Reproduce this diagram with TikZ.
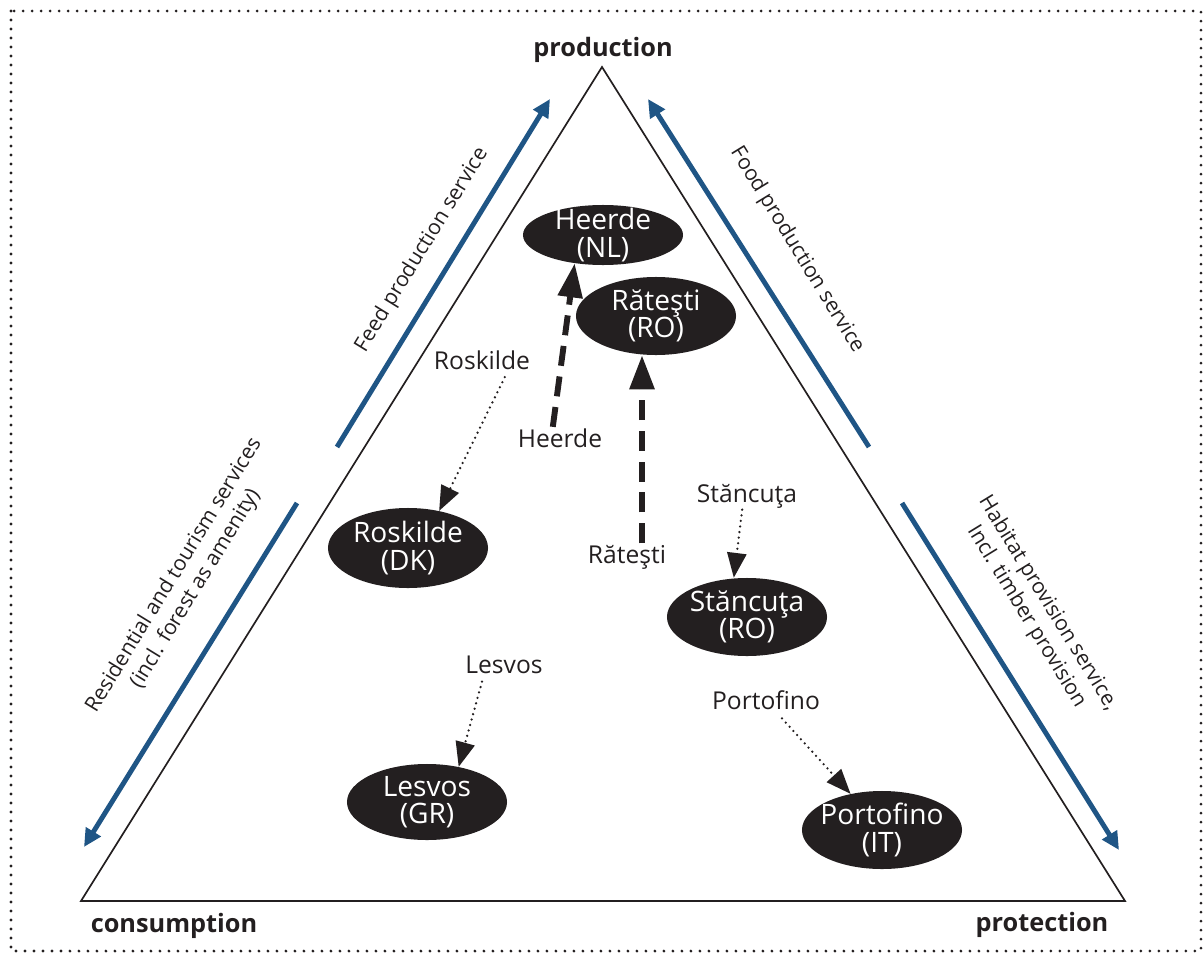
\documentclass[tikz,border=0pt]{standalone}
\usepackage{fontspec}
\setmainfont{Open Sans}
\usepackage{tikz}
\usetikzlibrary{arrows.meta, positioning, shapes.geometric, calc}
\definecolor{tblue}{HTML}{1F5585}
\definecolor{tdark}{HTML}{231F20}
\tikzset{
  sitebox/.style={ellipse, fill=tdark, text=white, align=center,
                  inner xsep=-0.3cm, inner ysep=-0.25cm,
                  minimum width=4cm, minimum height=1.95cm,
                  font=\fontsize{20}{19.5}\selectfont},
  tag/.style={inner sep=1pt, text=tdark, font=\fontsize{17.5}{20}\selectfont},
  corner/.style={text=tdark, font=\fontsize{18}{20}\selectfont\bfseries},
  svclabel/.style={align=center, text=tdark, font=\fontsize{15}{18}\selectfont},
  svcarr/.style={-{Triangle[length=0.45cm, width=0.42cm]}, line width=3.5pt, tblue},
  dotarr/.style={-{Triangle[length=0.62cm, width=0.48cm]}, line width=1.8pt,
                 line cap=round, dash pattern=on 0pt off 4pt, tdark},
  dasharr/.style={-{Triangle[length=0.85cm, width=0.6cm]}, line width=4.2pt,
                  dash pattern=on 0.5cm off 0.27cm, tdark},
  sideline/.style={line width=1.2pt, tdark, line join=miter},
}

\begin{document}
\begin{tikzpicture}[x=0.025cm, y=-0.025cm]
  \useasboundingbox (0,0) rectangle (1203,953);

  %% Frame
  \draw[line width=2.2pt, line cap=round, dash pattern=on 0pt off 6.4pt, tdark]
    (11,11) rectangle (1201,951);

  %% Triangle
  \coordinate (ptop) at (602,67);
  \coordinate (pleft) at (81,901);
  \coordinate (pright) at (1125,901);
  \draw[sideline] (ptop) -- (pleft) -- (pright) -- cycle;
  \node[corner] (prod) at (603,50) {production};
  \node[corner] (cons) at (174,926) {consumption};
  \node[corner] (prot) at (1042,925) {protection};

  %% Services along the sides
  \coordinate (feeda) at (337,447);  \coordinate (feedb) at (550,99);
  \coordinate (fooda) at (869,447);  \coordinate (foodb) at (648,99);
  \coordinate (resa) at (297,503);   \coordinate (resb) at (84,847);
  \coordinate (haba) at (902,503);   \coordinate (habb) at (1119,850);
  \draw[svcarr] (feeda) -- (feedb);
  \draw[svcarr] (fooda) -- (foodb);
  \draw[svcarr] (resa) -- (resb);
  \draw[svcarr] (haba) -- (habb);
  \node[svclabel, rotate=58.5] (feedlbl) at (422,250) {Feed production service};
  \node[svclabel, rotate=-58.5] (foodlbl) at (797,250) {Food production service};
  \node[svclabel, rotate=58.5] (reslbl) at (185,582)
    {Residential and tourism services\\(incl. forest as amenity)};
  \node[svclabel, rotate=-58.5] (hablbl) at (1037,610)
    {Habitat provision service,\\Incl. timber provision};

  %% Case study sites
  \node[sitebox, minimum height=1.5cm] (heerde) at (603,235) {Heerde\\(NL)};
  \node[sitebox] (ratesti) at (656,316) {Răteşti\\(RO)};
  \node[sitebox, minimum height=2cm] (roskilde) at (408,548) {Roskilde\\(DK)};
  \node[sitebox] (stancuta) at (747,617) {Stăncuţa\\(RO)};
  \node[sitebox, minimum height=1.9cm] (lesvos) at (427,802) {Lesvos\\(GR)};
  \node[sitebox] (portofino) at (882,830) {Portofino\\(IT)};

  % present position of each site
  \node[tag] (roskildetag) at (482,360) {Roskilde};
  \node[tag] (heerdetag) at (560,438) {Heerde};
  \node[tag] (ratestitag) at (627,557) {Răteşti};
  \node[tag] (stancutatag) at (747,496) {Stăncuţa};
  \node[tag] (lesvostag) at (504,665) {Lesvos};
  \node[tag] (portofinotag) at (766,700) {Portofino};

  %% Shifts
  \draw[dotarr] ([xshift=0.57cm, yshift=-0.15cm]roskildetag.south) -- (roskilde.50);
  \draw[dasharr] ([xshift=-0.18cm]heerdetag.north) -- (heerde.-135);
  \coordinate (rstart) at ([xshift=0.375cm]ratestitag.north);
  \draw[dasharr] (rstart) -- (rstart |- ratesti.south);
  \draw[dotarr] ([xshift=-0.12cm]stancutatag.south) -- ([xshift=-0.33cm]stancuta.north);
  \draw[dotarr] ([xshift=-0.55cm, yshift=-0.15cm]lesvostag.south) -- (lesvos.48);
  \draw[dotarr] ([xshift=0.4cm, yshift=-0.18cm]portofinotag.south) -- (portofino.131);

\end{tikzpicture}
\end{document}
